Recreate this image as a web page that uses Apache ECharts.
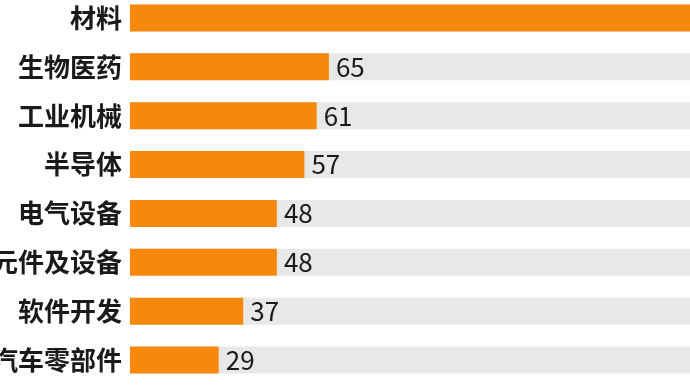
<!DOCTYPE html>
<html><head><meta charset="utf-8">
<script src="https://cdn.jsdelivr.net/npm/echarts@6/dist/echarts.min.js"></script>
<style>html,body{margin:0;padding:0;background:#fff}#c{width:690px;height:388px}</style>
</head><body><div id="c"></div>
<script>
var categories = ['材料','生物医药','工业机械','半导体','电气设备','元件及设备','软件开发','汽车零部件'];
var values = [195, 65, 61, 57, 48, 48, 37, 29];
var axisMax = 200;

var chart = echarts.init(document.getElementById('c'));
chart.setOption({
  animation: false,
  backgroundColor: '#fff',
  grid: { left: 130, right: -52, top: -6.5, bottom: 3.5, containLabel: false, outerBoundsMode: 'none' },
  xAxis: { type: 'value', min: 0, max: axisMax, show: false },
  yAxis: {
    type: 'category', data: categories, inverse: true,
    axisLine: { show: false }, axisTick: { show: false },
    axisLabel: { margin: 8, fontSize: 26, color: '#1a1a1a', fontWeight: 'bold',
      fontFamily: 'Noto Sans CJK SC' }
  },
  series: [{
    type: 'bar', data: values, barWidth: 27,
    itemStyle: { color: '#f6890c' },
    showBackground: true,
    backgroundStyle: { color: '#e8e8e8' },
    label: { show: true, position: 'right', distance: 7, fontSize: 26,
      color: '#1a1a1a', fontFamily: 'Noto Sans CJK SC' }
  }]
});
</script></body></html>
